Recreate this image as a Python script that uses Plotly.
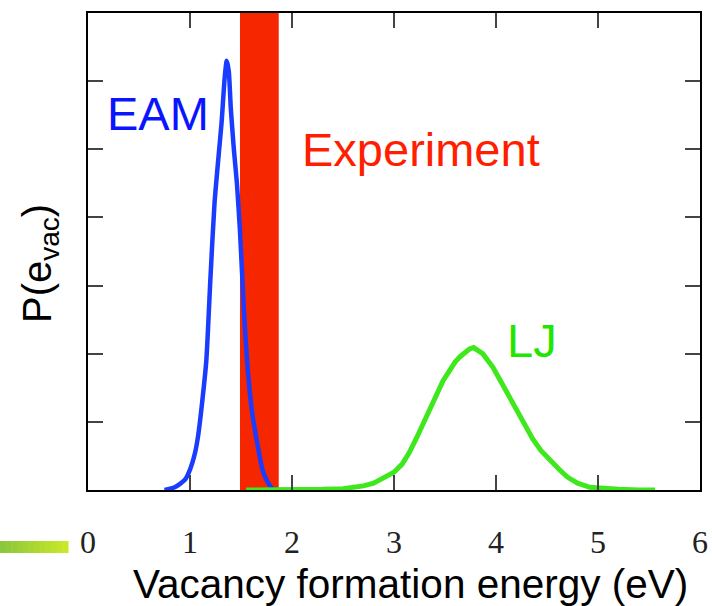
import plotly.graph_objects as go

# ---------------- data ----------------
eam_x = [0.75, 0.85, 0.95, 1.00, 1.05, 1.08, 1.12, 1.16, 1.20, 1.24, 1.28, 1.31, 1.34, 1.36,
         1.38, 1.40, 1.43, 1.46, 1.49, 1.53, 1.57, 1.61, 1.66, 1.71, 1.76, 1.81, 1.87, 1.93]
eam_y = [0.00, 0.04, 0.15, 0.30, 0.55, 0.80, 1.30, 1.90, 3.10, 4.20, 4.90, 5.40, 6.05, 6.30,
         6.15, 5.60, 5.00, 4.50, 3.80, 2.60, 1.70, 1.13, 0.68, 0.30, 0.12, 0.02, 0.00, 0.00]

lj_x = [1.55, 2.00, 2.30, 2.50, 2.60, 2.70, 2.80, 2.90, 3.00, 3.08, 3.15, 3.22, 3.30, 3.36,
        3.42, 3.48, 3.54, 3.60, 3.65, 3.70, 3.74, 3.78, 3.82, 3.87, 3.92, 3.97, 4.03, 4.09,
        4.15, 4.21, 4.28, 4.36, 4.44, 4.53, 4.62, 4.70, 4.80, 4.92, 5.05, 5.20, 5.40, 5.56]
lj_y = [0.00, 0.00, 0.01, 0.02, 0.04, 0.06, 0.10, 0.17, 0.26, 0.38, 0.55, 0.76, 1.02, 1.22,
        1.42, 1.60, 1.74, 1.88, 1.96, 2.02, 2.07, 2.09, 2.05, 2.00, 1.90, 1.80, 1.64, 1.48,
        1.32, 1.14, 0.95, 0.75, 0.58, 0.43, 0.30, 0.19, 0.10, 0.04, 0.02, 0.01, 0.00, 0.00]

exp_range = [1.49, 1.87]

x_ticks = [0, 1, 2, 3, 4, 5, 6]
x_ticklabels = ["0", "1", "2", "3", "4", "5", "6"]
y_ticks = [0, 1, 2, 3, 4, 5, 6, 7]

# ---------------- layout helpers ----------------
W, H = 712, 606
ML, MR, MT, MB = 88, 12, 13, 116
PW, PH = W - ML - MR, H - MT - MB


def px_x(p):
    return (p - ML) / PW


def px_y(p):
    return (H - MB - p) / PH


fig = go.Figure()

fig.add_shape(type="rect", xref="x", yref="paper", x0=exp_range[0], x1=exp_range[1],
              y0=0, y1=1, fillcolor="#f52600", line_width=0, layer="below")

fig.add_trace(go.Scatter(x=eam_x, y=eam_y, mode="lines", line_shape="spline",
                         line=dict(color="#1a3cff", width=4.5, smoothing=0.6), showlegend=False))
fig.add_trace(go.Scatter(x=lj_x, y=lj_y, mode="lines",
                         line=dict(color="#3ee81c", width=5), showlegend=False))

# green gradient decoration bar (bottom left)
n = 12
c0 = (140, 200, 60)
c1 = (200, 232, 40)
for i in range(n):
    t = i / (n - 1)
    col = "rgb(%d,%d,%d)" % tuple(int(c0[k] + (c1[k] - c0[k]) * t) for k in range(3))
    fig.add_shape(type="rect", xref="paper", yref="paper",
                  x0=px_x(68 * i / n), x1=px_x(68 * (i + 1) / n + 0.5),
                  y0=px_y(553), y1=px_y(541), fillcolor=col, line_width=0)

ann_font = "Liberation Sans, Arial"
fig.add_annotation(x=0.69, y=5.52, xref="x", yref="y", text="EAM", showarrow=False,
                   xanchor="center", yanchor="middle",
                   font=dict(family=ann_font, size=47, color="#0a14ff"))
fig.add_annotation(x=3.26, y=5.0, xref="x", yref="y", text="Experiment", showarrow=False,
                   xanchor="center", yanchor="middle",
                   font=dict(family=ann_font, size=47, color="#ff1e00"))
fig.add_annotation(x=4.35, y=2.2, xref="x", yref="y", text="LJ", showarrow=False,
                   xanchor="center", yanchor="middle",
                   font=dict(family=ann_font, size=47, color="#22e600"))

fig.add_annotation(x=px_x(410), y=px_y(584), xref="paper", yref="paper",
                   text="Vacancy formation energy (eV)", showarrow=False,
                   xanchor="center", yanchor="middle",
                   font=dict(family=ann_font, size=40.5, color="black"))
fig.add_annotation(x=px_x(40), y=px_y(264), xref="paper", yref="paper",
                   text="P(e<sub>vac</sub>)", textangle=-90, showarrow=False,
                   xanchor="center", yanchor="middle",
                   font=dict(family=ann_font, size=40, color="black"))

axis_common = dict(showgrid=False, zeroline=False, showline=True, linecolor="black",
                   linewidth=2, mirror="ticks", ticks="inside", ticklen=15, tickwidth=2,
                   tickcolor="#444444", automargin=False)

fig.update_xaxes(range=[0, 6], tickmode="array", tickvals=x_ticks, ticktext=x_ticklabels,
                 tickfont=dict(family="Liberation Serif, Times New Roman", size=32, color="#222222"),
                 ticklabelstandoff=23, **axis_common)
fig.update_yaxes(range=[0, 7], tickmode="array", tickvals=y_ticks, showticklabels=False,
                 **axis_common)

fig.update_layout(width=W, height=H, margin=dict(l=ML, r=MR, t=MT, b=MB),
                  paper_bgcolor="white", plot_bgcolor="white", showlegend=False)

fig.write_html("out.html")
